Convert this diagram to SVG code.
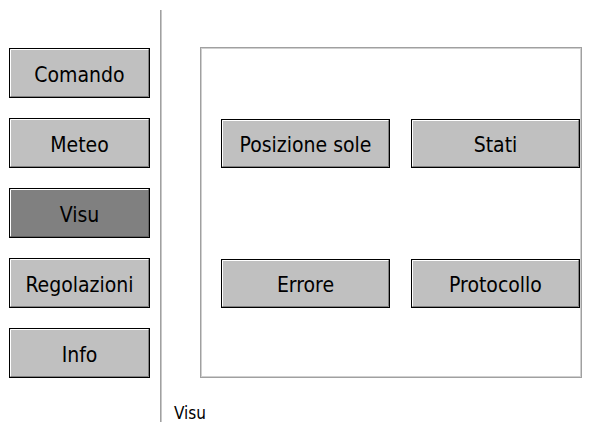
<svg xmlns="http://www.w3.org/2000/svg" width="596" height="422" viewBox="0 0 596 422">
<style>
.face{fill:#c0c0c0;}
.face.dark{fill:#808080;}
.outer{fill:none;stroke:#000;stroke-width:1;}
.hl{fill:none;stroke:#ffffff;stroke-width:1;}
.sh{fill:none;stroke:#808080;stroke-width:1;}
.sh.dark{stroke:#606060;}
.lbl{font-family:"DejaVu Sans Condensed","DejaVu Sans",sans-serif;font-size:21px;fill:#000;text-anchor:middle;}
.cap{font-family:"DejaVu Sans Condensed","DejaVu Sans",sans-serif;font-size:17px;fill:#000;}
</style>
<rect width="596" height="422" fill="#ffffff"/>
<line x1="160.5" y1="10" x2="160.5" y2="422" stroke="#a0a0a0" stroke-width="1"/>
<line x1="161.5" y1="10" x2="161.5" y2="422" stroke="#c8c8c8" stroke-width="1"/>
<g id="panel">
<rect x="200.5" y="47.5" width="381" height="330" fill="none" stroke="#a0a0a0"/>
<rect x="201.5" y="48.5" width="379" height="328" fill="none" stroke="#d0d0d0"/>
</g>
<g id="connectors"></g>
<g id="b-comando">
<rect x="9" y="48" width="141" height="50" class="face"/>
<path d="M10.5 96.5V49.5H148.5" class="hl"/>
<path d="M10.5 96.5H148.5V49.5" class="sh"/>
<rect x="9.5" y="48.5" width="140" height="49" class="outer"/>
<text x="79.5" y="82" class="lbl">Comando</text>
</g>
<g id="b-meteo">
<rect x="9" y="118" width="141" height="50" class="face"/>
<path d="M10.5 166.5V119.5H148.5" class="hl"/>
<path d="M10.5 166.5H148.5V119.5" class="sh"/>
<rect x="9.5" y="118.5" width="140" height="49" class="outer"/>
<text x="79.5" y="152" class="lbl">Meteo</text>
</g>
<g id="b-visu">
<rect x="9" y="188" width="141" height="50" class="face dark"/>
<path d="M10.5 236.5V189.5H148.5" class="hl"/>
<path d="M10.5 236.5H148.5V189.5" class="sh dark"/>
<rect x="9.5" y="188.5" width="140" height="49" class="outer"/>
<text x="79.5" y="222" class="lbl">Visu</text>
</g>
<g id="b-regolazioni">
<rect x="9" y="258" width="141" height="50" class="face"/>
<path d="M10.5 306.5V259.5H148.5" class="hl"/>
<path d="M10.5 306.5H148.5V259.5" class="sh"/>
<rect x="9.5" y="258.5" width="140" height="49" class="outer"/>
<text x="79.5" y="292" class="lbl">Regolazioni</text>
</g>
<g id="b-info">
<rect x="9" y="328" width="141" height="50" class="face"/>
<path d="M10.5 376.5V329.5H148.5" class="hl"/>
<path d="M10.5 376.5H148.5V329.5" class="sh"/>
<rect x="9.5" y="328.5" width="140" height="49" class="outer"/>
<text x="79.5" y="362" class="lbl">Info</text>
</g>
<g id="b-posizione">
<rect x="221" y="119" width="169" height="49" class="face"/>
<path d="M222.5 166.5V120.5H388.5" class="hl"/>
<path d="M222.5 166.5H388.5V120.5" class="sh"/>
<rect x="221.5" y="119.5" width="168" height="48" class="outer"/>
<text x="305.5" y="152" class="lbl">Posizione sole</text>
</g>
<g id="b-stati">
<rect x="411" y="119" width="169" height="49" class="face"/>
<path d="M412.5 166.5V120.5H578.5" class="hl"/>
<path d="M412.5 166.5H578.5V120.5" class="sh"/>
<rect x="411.5" y="119.5" width="168" height="48" class="outer"/>
<text x="495.5" y="152" class="lbl">Stati</text>
</g>
<g id="b-errore">
<rect x="221" y="259" width="169" height="49" class="face"/>
<path d="M222.5 306.5V260.5H388.5" class="hl"/>
<path d="M222.5 306.5H388.5V260.5" class="sh"/>
<rect x="221.5" y="259.5" width="168" height="48" class="outer"/>
<text x="305.5" y="292" class="lbl">Errore</text>
</g>
<g id="b-protocollo">
<rect x="411" y="259" width="169" height="49" class="face"/>
<path d="M412.5 306.5V260.5H578.5" class="hl"/>
<path d="M412.5 306.5H578.5V260.5" class="sh"/>
<rect x="411.5" y="259.5" width="168" height="48" class="outer"/>
<text x="495.5" y="292" class="lbl">Protocollo</text>
</g>
<g id="caption">
<text x="174" y="419" class="cap">Visu</text>
</g>
</svg>
